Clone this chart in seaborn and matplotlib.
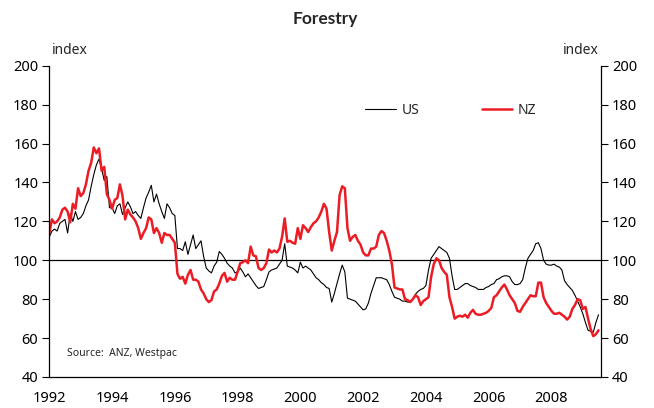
import numpy as np
import pandas as pd
import matplotlib
matplotlib.use("Agg")
import matplotlib.pyplot as plt
import seaborn as sns

# Monthly index values, Jan 1992 - Jul 2009
start_year = 1992
us = [
    112, 115, 116, 115, 119, 120, 121, 114, 124, 120, 125, 121,          # 1992
    122, 124, 128, 131, 138, 144, 149, 152, 147, 141, 143, 127,          # 1993
    127, 124, 128, 129, 123.5, 127, 130, 127.5, 124, 125, 123, 121.5,    # 1994
    127, 132, 135, 138.5, 130, 134, 129, 125, 121.5, 129, 127, 124,      # 1995
    123, 106, 106, 105, 109.5, 103, 108, 113, 106, 108, 110, 102,        # 1996
    96, 94.5, 93.5, 97, 99, 104.5, 103, 101, 98.5, 97, 96, 93.5,         # 1997
    94, 96, 94, 91.5, 93, 91, 89, 87, 85.5, 86, 86.5, 90,                # 1998
    94, 95, 95.5, 96, 98, 100, 108.5, 97, 96.5, 96, 95, 93.5,            # 1999
    99, 96, 97, 96, 95, 93, 91, 90, 88.5, 87.5, 86, 85.5,                # 2000
    78.5, 83, 88, 93, 97.5, 94, 80.5, 80, 79.5, 79, 77.5, 76,            # 2001
    74.5, 75, 78, 83, 87, 91, 91, 91, 90.5, 90, 87.5, 84,                # 2002
    81, 80.5, 80, 79, 79, 78.5, 78.5, 80, 82.5, 84, 85, 85.5,            # 2003
    87, 95, 101, 103, 105, 107, 106, 105, 104, 101, 92, 85,              # 2004
    85, 86, 87, 88, 88, 87, 86.5, 86, 85, 85, 85, 86,                    # 2005
    86.5, 87.5, 88, 90, 90.5, 91.5, 92, 92, 91.5, 89, 87.5, 87.5,        # 2006
    88, 90, 96, 101, 103, 105, 108.5, 109, 106, 100, 98, 97.5,           # 2007
    97.5, 98, 97, 96.5, 95, 89.5, 87.5, 86, 84.5, 82, 79, 76,            # 2008
    72.5, 68, 64, 63.5, 63, 68, 72,                                      # 2009
]
nz = [
    114, 121, 119, 120, 122, 126, 127, 125, 119.5, 129, 126.5, 137,      # 1992
    133, 134.5, 139, 146, 150, 158, 155, 157.5, 146, 148, 134, 131,      # 1993
    126.5, 131, 132, 139, 133, 121, 126, 123.5, 122, 120, 116.5, 111,    # 1994
    114, 116.5, 122, 121, 114, 116.5, 114, 109, 114, 113, 113, 111,      # 1995
    109, 93, 90.5, 91.5, 88, 92.5, 95, 90, 90, 89, 85, 83,               # 1996
    80, 78.5, 79.5, 84, 85, 88, 92, 93.5, 89, 91, 90, 90,                # 1997
    94, 98.5, 99, 100, 98.5, 107, 102.5, 102, 96, 95, 96, 98.5,          # 1998
    105.5, 104, 105, 104, 106, 112, 121.5, 109.5, 110, 109, 108.5, 116.5,  # 1999
    111, 118, 116.5, 114.5, 117, 119, 120, 122, 125, 129, 126.5, 114.5,  # 2000
    105, 110, 114.5, 133.5, 138, 137, 116.5, 110, 112, 113, 110, 108,    # 2001
    104, 102.5, 102.5, 106, 106, 107, 113, 115, 114, 110, 105, 98,       # 2002
    86, 85.5, 85, 85, 80, 79.5, 78.5, 80, 82, 81, 77, 79,                # 2003
    80, 81, 91.5, 98, 101, 100, 96, 94, 92.5, 81, 76, 70,                # 2004
    71, 71.5, 71, 72, 70.5, 73, 74.5, 72.5, 72, 72, 72.5, 73,            # 2005
    74, 75.5, 81, 82, 84, 86, 87.5, 85, 82, 80, 78, 74,                  # 2006
    73.5, 76, 78, 80, 82, 81.5, 81.5, 88.5, 88.5, 81, 78, 76,            # 2007
    74, 72.5, 72.5, 73, 72, 71, 69.5, 71, 75, 77, 80, 79.5,              # 2008
    75, 76, 70, 64.5, 61, 62, 64,                                        # 2009
]
year_ticks = list(range(1992, 2010))
y_ticks = list(range(40, 201, 20))

t = start_year + np.arange(len(us)) / 12
df = pd.DataFrame({
    "t": np.concatenate([t, t]),
    "value": us + nz,
    "series": ["US"] * len(us) + ["NZ"] * len(nz),
})

sns.set_style("white")
plt.rcParams["font.family"] = ["Noto Sans", "DejaVu Sans"]

fig = plt.figure(figsize=(6.54, 4.08), dpi=100)
ax = fig.add_axes([0.0754, 0.076, 0.8436, 0.763])

sns.lineplot(data=df[df.series == "US"], x="t", y="value", color="black",
             linewidth=0.8, ax=ax, label="US")
sns.lineplot(data=df[df.series == "NZ"], x="t", y="value", color="#ec1c24",
             linewidth=1.8, ax=ax, label="NZ")
ax.axhline(100, color="black", linewidth=0.9, zorder=0)

ax.set_xlim(1992, 2009.58)
ax.set_ylim(40, 200)
ax.set_xticks(year_ticks)
ax.set_xticklabels([str(y) if y % 2 == 0 else "" for y in year_ticks])
ax.set_yticks(y_ticks)
ax.set_xlabel("")
ax.set_ylabel("")

ax.tick_params(axis="x", direction="in", length=5, width=0.8, pad=10,
               labelsize=10.5, colors="black")
ax.tick_params(axis="y", direction="out", length=5, width=0.8, pad=3,
               left=True, right=True, labelleft=True, labelright=True,
               labelsize=10.5, colors="black")

for side in ["left", "right", "bottom"]:
    ax.spines[side].set_visible(True)
    ax.spines[side].set_color("black")
    ax.spines[side].set_linewidth(0.9)
ax.spines["top"].set_visible(False)

ax.set_title("Forestry", fontsize=12.5, fontweight="bold", pad=30,
             family=["Lato", "DejaVu Sans"])
ax.text(0.005, 1.025, "index", transform=ax.transAxes, fontsize=10,
        ha="left", va="bottom")
ax.text(0.995, 1.025, "index", transform=ax.transAxes, fontsize=10,
        ha="right", va="bottom")
ax.text(0.032, 0.077, "Source:  ANZ, Westpac", transform=ax.transAxes,
        fontsize=7.5, ha="left", va="center")

ax.legend(loc="center", bbox_to_anchor=(0.728, 0.857), ncol=2, frameon=False,
          fontsize=10, handlelength=2.2, columnspacing=4.5, handletextpad=0.4)

fig.savefig("out.png", dpi=100)
